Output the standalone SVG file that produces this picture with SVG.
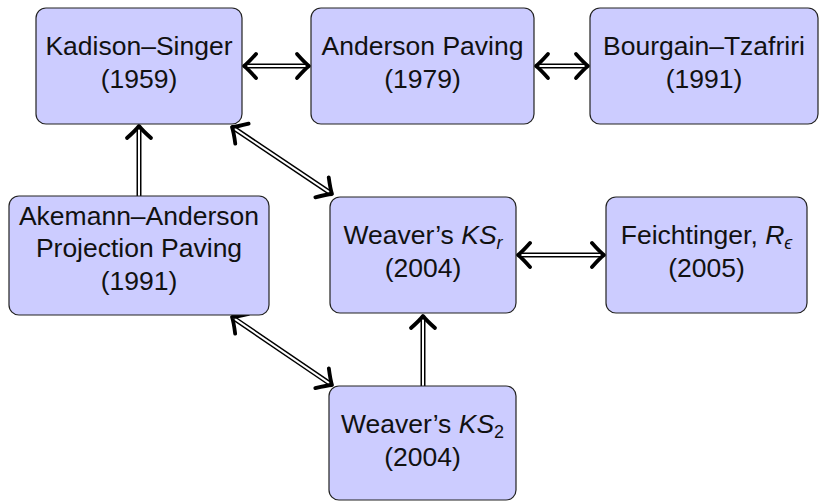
<svg xmlns="http://www.w3.org/2000/svg" xmlns:xlink="http://www.w3.org/1999/xlink" width="820" height="502" viewBox="0 0 820 502">
<style>
.box{fill:#ccccff;stroke:#222;stroke-width:1.2}
text{font-family:"Liberation Sans",Arial,sans-serif;font-size:26.5px;fill:#111;text-anchor:middle}
.it{font-style:italic}
.sub{font-size:18px}
.outer{fill:none;stroke:#000;stroke-width:5}
.inner{fill:none;stroke:#fff;stroke-width:2}
.head{fill:none;stroke:#000;stroke-width:3.8;stroke-linecap:round;stroke-linejoin:round}
</style>
<defs>
<path id="hd" d="M -12,-12 Q -4,-3 0,0 Q -4,3 -12,12"/>
</defs>
<rect width="820" height="502" fill="#fff"/>
<g id="connectors">
<path class="outer" d="M 246,66 H 307"/><path class="inner" d="M 246,66 H 307"/>
<use xlink:href="#hd" class="head" transform="translate(244,66) rotate(180)"/>
<use xlink:href="#hd" class="head" transform="translate(309,66)"/>
<path class="outer" d="M 538,66 H 586"/><path class="inner" d="M 538,66 H 586"/>
<use xlink:href="#hd" class="head" transform="translate(536,66) rotate(180)"/>
<use xlink:href="#hd" class="head" transform="translate(588,66)"/>
<path class="outer" d="M 139,196 V 128"/><path class="inner" d="M 139,196 V 128"/>
<use xlink:href="#hd" class="head" transform="translate(139,126) rotate(-90)"/>
<path class="outer" d="M 234.5,128.7 L 329.5,192.3"/><path class="inner" d="M 234.5,128.7 L 329.5,192.3"/>
<use xlink:href="#hd" class="head" transform="translate(232,127) rotate(213.8)"/>
<use xlink:href="#hd" class="head" transform="translate(332,194) rotate(33.8)"/>
<path class="outer" d="M 234.5,318.7 L 329.5,383.3"/><path class="inner" d="M 234.5,318.7 L 329.5,383.3"/>
<use xlink:href="#hd" class="head" transform="translate(232,317) rotate(214.2)"/>
<use xlink:href="#hd" class="head" transform="translate(332,385) rotate(34.2)"/>
<path class="outer" d="M 520,255 H 602"/><path class="inner" d="M 520,255 H 602"/>
<use xlink:href="#hd" class="head" transform="translate(518,255) rotate(180)"/>
<use xlink:href="#hd" class="head" transform="translate(604,255)"/>
<path class="outer" d="M 423,386 V 318"/><path class="inner" d="M 423,386 V 318"/>
<use xlink:href="#hd" class="head" transform="translate(423,316) rotate(-90)"/>
</g>
<g id="kadison-singer">
<rect class="box" x="36" y="8" width="206" height="116" rx="10"/>
<text x="139" y="55">Kadison–Singer</text>
<text x="139" y="88">(1959)</text>
</g>
<g id="anderson-paving">
<rect class="box" x="311" y="8" width="223" height="116" rx="10"/>
<text x="422.5" y="55">Anderson Paving</text>
<text x="422.5" y="88">(1979)</text>
</g>
<g id="bourgain-tzafriri">
<rect class="box" x="590" y="8" width="228" height="116" rx="10"/>
<text x="704" y="55">Bourgain–Tzafriri</text>
<text x="704" y="88">(1991)</text>
</g>
<g id="akemann-anderson">
<rect class="box" x="9" y="196" width="260" height="119" rx="10"/>
<text x="139" y="225">Akemann–Anderson</text>
<text x="139" y="257">Projection Paving</text>
<text x="139" y="290">(1991)</text>
</g>
<g id="weaver-ksr">
<rect class="box" x="330" y="197" width="186" height="116" rx="10"/>
<text x="423" y="244">Weaver’s <tspan class="it">KS</tspan><tspan class="it sub" dy="5">r</tspan></text>
<text x="423" y="277">(2004)</text>
</g>
<g id="feichtinger">
<rect class="box" x="606" y="197" width="201" height="116" rx="10"/>
<text x="706.5" y="244">Feichtinger, <tspan class="it">R</tspan><tspan class="it sub" dy="5">ϵ</tspan></text>
<text x="706.5" y="277">(2005)</text>
</g>
<g id="weaver-ks2">
<rect class="box" x="329" y="386" width="187" height="114" rx="10"/>
<text x="422.5" y="433">Weaver’s <tspan class="it">KS</tspan><tspan class="sub" dy="5">2</tspan></text>
<text x="422.5" y="466">(2004)</text>
</g>
</svg>
